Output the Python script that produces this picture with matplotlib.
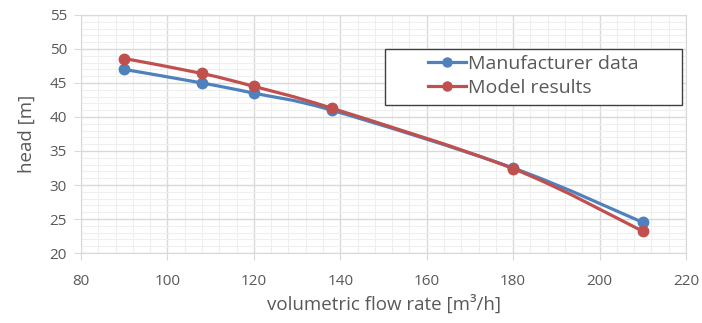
import numpy as np
import matplotlib.pyplot as plt
from matplotlib.path import Path
from matplotlib.patches import PathPatch, Rectangle
from matplotlib.lines import Line2D

# data
flow = [90, 108, 120, 138, 180, 210]
head_manufacturer = [47.0, 45.0, 43.5, 41.0, 32.5, 24.5]
head_model = [48.6, 46.4, 44.5, 41.3, 32.4, 23.2]

blue = '#4F81BD'
red = '#C0504D'
grey_txt = '#595959'

plt.rcParams['font.family'] = ['Open Sans', 'DejaVu Sans']


def smooth_path(x, y, t=1 / 6):
    # Excel-like smoothed line: cubic Bezier through the points
    x = np.asarray(x, float)
    y = np.asarray(y, float)
    verts = [(x[0], y[0])]
    codes = [Path.MOVETO]
    n = len(x)
    for i in range(n - 1):
        p0 = (x[max(i - 1, 0)], y[max(i - 1, 0)])
        p1 = (x[i], y[i])
        p2 = (x[i + 1], y[i + 1])
        p3 = (x[min(i + 2, n - 1)], y[min(i + 2, n - 1)])
        c1 = (p1[0] + (p2[0] - p0[0]) * t, p1[1] + (p2[1] - p0[1]) * t)
        c2 = (p2[0] - (p3[0] - p1[0]) * t, p2[1] - (p3[1] - p1[1]) * t)
        verts += [c1, c2, p2]
        codes += [Path.CURVE4] * 3
    return Path(verts, codes)


fig = plt.figure(figsize=(7.02, 3.23), dpi=100)
ax = fig.add_axes([0.1154, 0.2167, 0.8618, 0.7369])

for yy, col in [(head_manufacturer, blue), (head_model, red)]:
    ax.add_patch(PathPatch(smooth_path(flow, yy), fill=False, edgecolor=col,
                           linewidth=2.3, zorder=3, capstyle='round'))
    ax.plot(flow, yy, linestyle='none', marker='o', markersize=7.5,
            color=col, zorder=4)

ax.set_xlim(80, 220)
ax.set_ylim(20, 55)
ax.set_xticks(np.arange(80, 221, 20))
ax.set_yticks(np.arange(20, 56, 5))
ax.set_xticks(np.arange(80, 221, 4), minor=True)
ax.set_yticks(np.arange(20, 56, 1), minor=True)
ax.grid(True, which='major', color='#D9D9D9', linewidth=1.0, zorder=0)
ax.grid(True, which='minor', color='#EFEFEF', linewidth=0.8, zorder=0)
ax.set_axisbelow(True)

for side in ['top', 'right', 'left', 'bottom']:
    ax.spines[side].set_color('#D9D9D9')
ax.tick_params(which='both', length=0, colors=grey_txt, labelsize=11)
ax.tick_params(axis='x', which='major', length=5, color='#D9D9D9', pad=10)
ax.tick_params(axis='y', which='major', length=5, color='#D9D9D9', pad=5)

ax.set_xlabel('volumetric flow rate [m³/h]', color=grey_txt, fontsize=13.5,
              labelpad=4)
ax.set_ylabel('head [m]', color=grey_txt, fontsize=13.5, labelpad=10)

# legend frame drawn separately so the entries can sit centred in a wide box
ax.add_patch(Rectangle((0.502, 0.622), 0.491, 0.235, transform=ax.transAxes,
                       facecolor='white', edgecolor='#404040', linewidth=1.0,
                       zorder=5))
handles = [Line2D([], [], color=blue, marker='o', markersize=6.5, linewidth=2.3),
           Line2D([], [], color=red, marker='o', markersize=6.5, linewidth=2.3)]
leg = ax.legend(handles, ['Manufacturer data', 'Model results'],
                loc='center left', bbox_to_anchor=(0.573, 0.744),
                fontsize=14, frameon=False, handlelength=1.95,
                handletextpad=0.12, borderpad=0, labelspacing=0.27,
                borderaxespad=0)
leg.set_zorder(6)
for txt in leg.get_texts():
    txt.set_color(grey_txt)

fig.savefig('out.png', dpi=100, facecolor='white')
